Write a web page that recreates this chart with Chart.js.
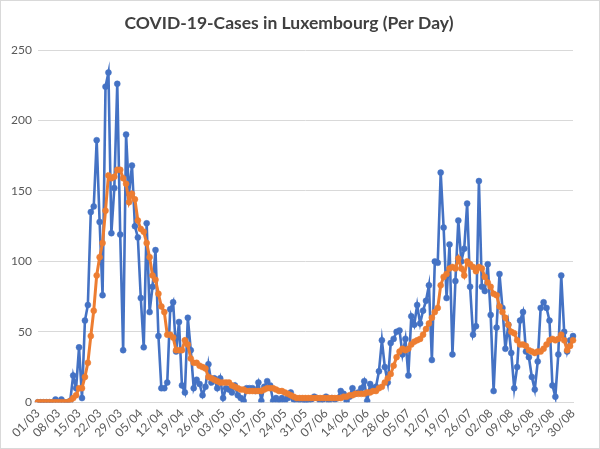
<!DOCTYPE html>
<html lang="en">
<head>
    <meta charset="UTF-8">
    <title>COVID-19-Cases in Luxembourg (Per Day)</title>
    <script src="https://cdn.jsdelivr.net/npm/chart.js"></script>
    <style>
        html, body { margin: 0; padding: 0; background: #fff; }
        #chartContainer {
            width: 600px;
            height: 449px;
            box-sizing: border-box;
            border: 1px solid #d9d9d9;
        }
    </style>
</head>
<body>
    <div id="chartContainer">
        <canvas id="casesChart"></canvas>
    </div>
    <script>
        // one value per day, 01/03 .. 30/08
        const dailyCases = [
            0, 0, 0, 0, 0, 0, 2, 0, 2, 0, 0, 1, 19, 10, 39, 3,
            58, 69, 135, 139, 186, 128, 76, 224, 234, 120, 152, 226, 119, 37, 190, 148,
            168, 125, 117, 74, 39, 127, 64, 82, 108, 47, 10, 10, 14, 66, 71, 36,
            57, 12, 7, 60, 37, 10,
            16, 13, 5, 11, 27, 14, 17, 10, 17, 3, 10, 9, 7, 12, 5, 3,
            1, 10, 10, 10, 8, 14, 1, 11, 15, 12, 1, 3, 0, 3, 1, 3,
            7, 2, 1, 2, 1, 0, 1, 2, 4, 3, 1, 2, 4, 1, 3, 2,
            3, 8, 6, 1, 4, 10, 6, 7, 10, 15, 1, 13, 10, 11, 22, 44, 25, 14,
            42, 45, 50, 51, 34, 45, 19, 61, 55, 69, 56, 65, 72, 83, 30, 100,
            99, 163, 124, 74, 112, 34, 86, 129, 100, 109, 141, 82, 48, 54, 157, 82,
            79, 98, 62, 8, 53, 91, 67, 38, 55, 35, 10, 25, 58, 64, 36, 32,
            18, 9, 29, 67, 71, 67, 58, 12, 4, 34, 90, 50, 36, 44, 47
        ];

        const movingAverage = [
            0, 0, 0, 0, 0, 0, 0, 0, 0, 0, 0, 1, 3, 5, 10, 10,
            18, 28, 47, 65, 90, 103, 113, 136, 161, 159, 160, 165, 165, 159, 155, 142,
            148, 144, 129, 123, 121, 113, 103, 90, 87, 77, 68, 64, 48, 48, 46, 37,
            37, 37, 44, 41, 31, 28,
            28, 26, 25, 24, 18, 17, 16, 15, 14, 14, 14, 14, 12, 11, 10, 9,
            9, 8, 8, 8, 8, 8, 8, 9, 10, 10, 10, 9, 8, 8, 7, 6,
            5, 4, 3, 3, 3, 3, 3, 3, 3, 3, 3, 3, 3, 3, 3, 3,
            3, 3, 4, 4, 5, 5, 6, 6, 6, 6, 7, 7, 8, 8, 10, 11, 14, 17,
            20, 26, 32, 36, 38, 37, 38, 41, 43, 44, 45, 48, 52, 56, 60, 64,
            67, 83, 89, 91, 95, 96, 95, 102, 95, 90, 100, 98, 96, 93, 96, 95,
            89, 85, 82, 77, 76, 68, 64, 60, 55, 50, 49, 44, 41, 41, 40, 37,
            36, 35, 36, 36, 38, 41, 44, 45, 44, 45, 48, 44, 37, 40, 44
        ];

        const xTickLabels = [
            '01/03', '08/03', '15/03', '22/03', '29/03', '05/04', '12/04', '19/04', '26/04',
            '03/05', '10/05', '17/05', '24/05', '31/05', '07/06', '14/06', '21/06', '28/06',
            '05/07', '12/07', '19/07', '26/07', '02/08', '09/08', '16/08', '23/08', '30/08'
        ];
        const yTicks = [0, 50, 100, 150, 200, 250];

        // daily category labels dd/mm
        const days = [];
        const start = new Date(2020, 2, 1);
        for (let i = 0; i < dailyCases.length; i++) {
            const d = new Date(start.getFullYear(), start.getMonth(), start.getDate() + i);
            days.push(String(d.getDate()).padStart(2, '0') + '/' + String(d.getMonth() + 1).padStart(2, '0'));
        }

        const blue = '#4472C4';
        const orange = '#ED7D31';
        const textGrey = '#595959';

        new Chart(document.getElementById('casesChart'), {
            type: 'line',
            data: {
                labels: days,
                datasets: [
                    {
                        label: 'Average',
                        data: movingAverage,
                        borderColor: orange,
                        backgroundColor: orange,
                        borderWidth: 3,
                        pointRadius: 3,
                        pointBorderWidth: 0.5,
                        tension: 0,
                        order: 0
                    },
                    {
                        label: 'Cases',
                        data: dailyCases,
                        borderColor: blue,
                        backgroundColor: blue,
                        borderWidth: 2.6,
                        pointRadius: 3,
                        pointBorderWidth: 0.5,
                        tension: 0,
                        order: 1
                    }
                ]
            },
            options: {
                responsive: true,
                maintainAspectRatio: false,
                animation: false,
                layout: { padding: { left: 4, right: 26, top: 5, bottom: 4 } },
                plugins: {
                    legend: { display: false },
                    tooltip: { enabled: false },
                    title: {
                        display: true,
                        text: 'COVID-19-Cases in Luxembourg (Per Day)',
                        color: '#404040',
                        font: { family: 'Lato', size: 17.5, weight: 'bold' },
                        padding: { top: 7, bottom: 16 }
                    }
                },
                scales: {
                    x: {
                        offset: false,
                        grid: { display: false, drawTicks: false },
                        border: { display: true, color: '#d9d9d9' },
                        ticks: {
                            autoSkip: false,
                            minRotation: 45,
                            maxRotation: 45,
                            color: textGrey,
                            font: { family: 'Lato', size: 12 },
                            padding: 4,
                            callback: function (value, index) {
                                const lab = days[index];
                                return xTickLabels.includes(lab) ? lab : null;
                            }
                        }
                    },
                    y: {
                        min: yTicks[0],
                        max: yTicks[yTicks.length - 1],
                        grid: { color: '#d9d9d9', drawTicks: false },
                        border: { display: false },
                        ticks: {
                            stepSize: 50,
                            color: textGrey,
                            font: { family: 'Lato', size: 12 },
                            padding: 6
                        }
                    }
                }
            }
        });
    </script>
</body>
</html>
